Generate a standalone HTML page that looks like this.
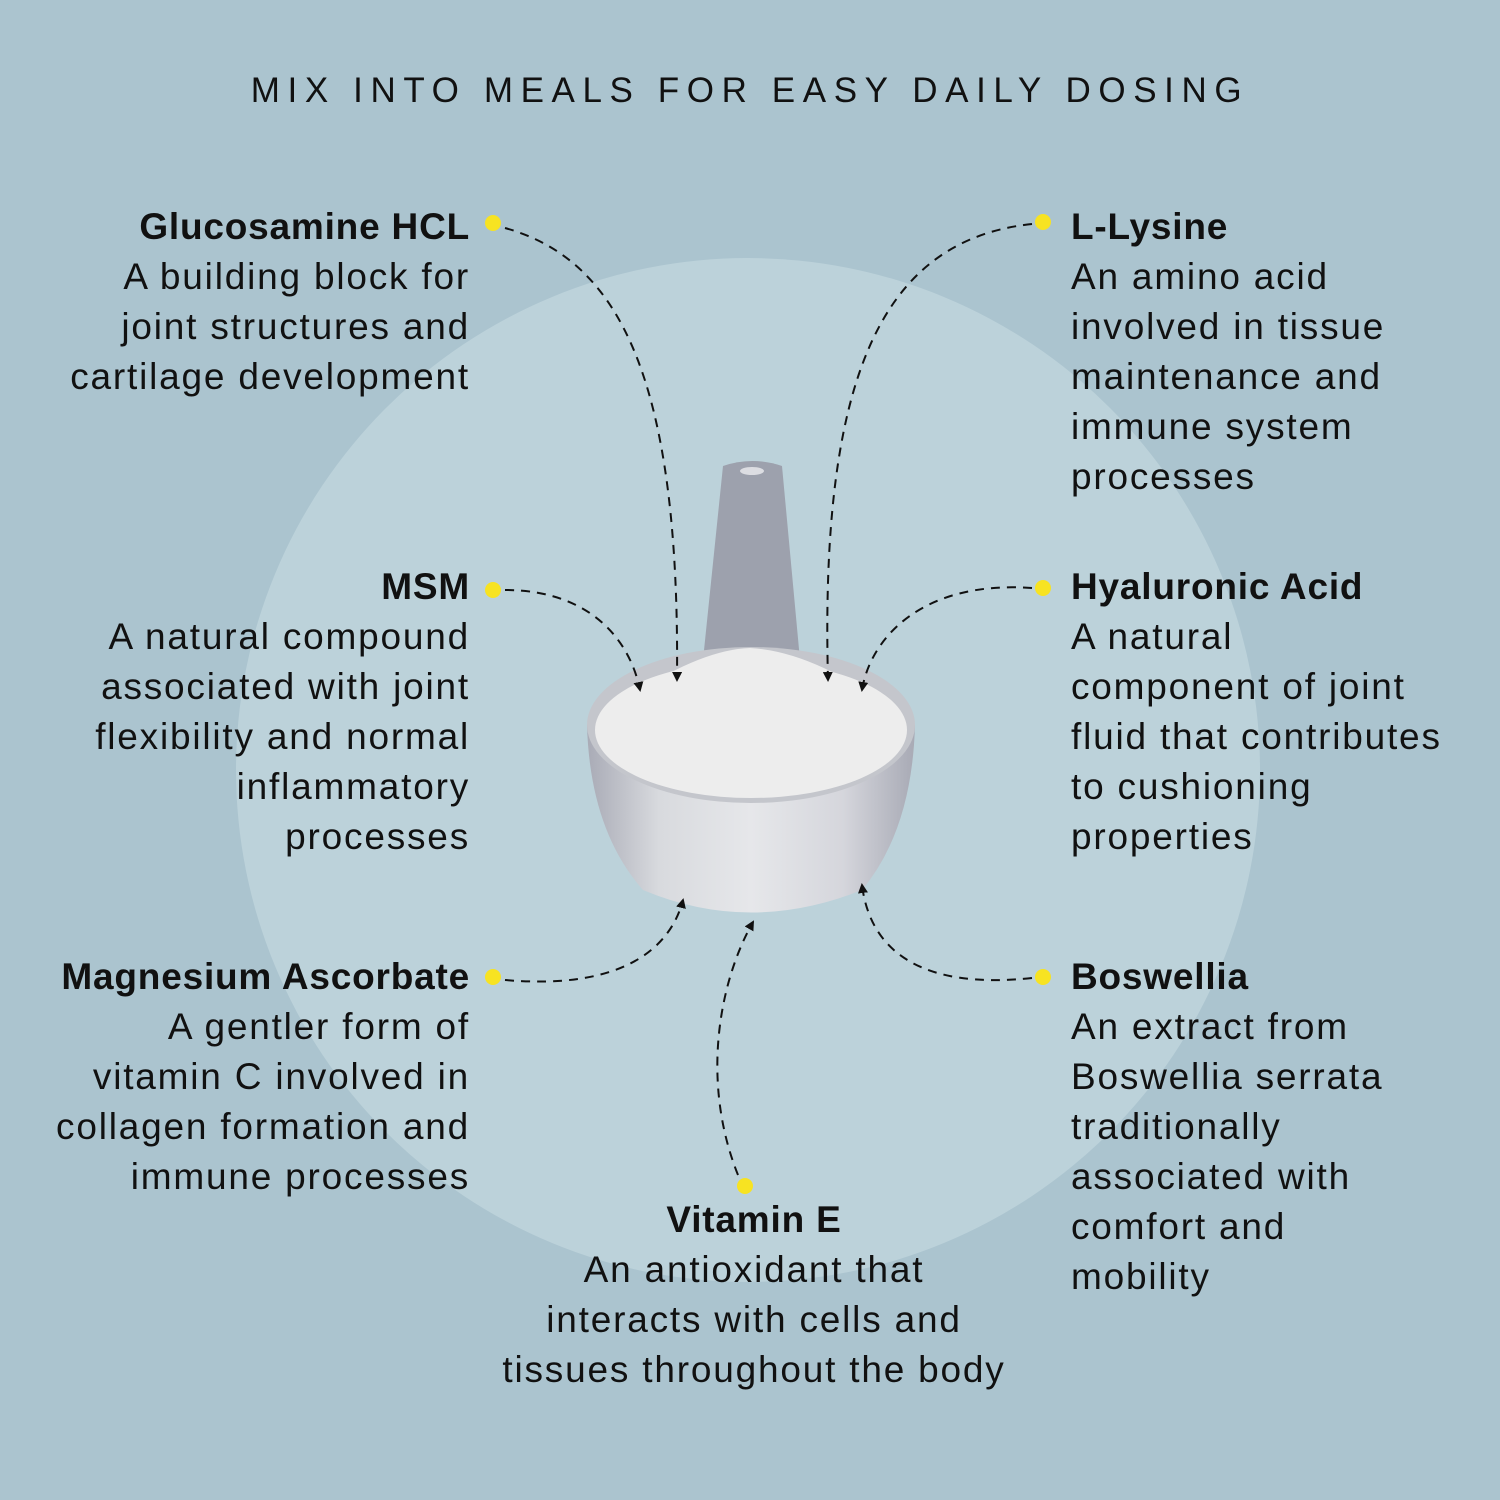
<!DOCTYPE html>
<html><head><style>
body{margin:0;width:1500px;height:1500px;background:#abc4cf;overflow:hidden;font-family:"Liberation Sans",sans-serif;color:#111}
.t{position:absolute;font-size:37px;line-height:50px;white-space:nowrap;letter-spacing:1.8px}
.r{text-align:right}
b{font-weight:bold;letter-spacing:0.8px}
</style></head><body>
<svg width="1500" height="1500" style="position:absolute;left:0;top:0">
<defs>
<marker id="a" markerWidth="10" markerHeight="10" refX="8" refY="5" orient="auto" markerUnits="userSpaceOnUse"><path d="M0,0 L10,5 L0,10z" fill="#111"/></marker>
<linearGradient id="cup" x1="0" x2="1"><stop offset="0" stop-color="#a9abb6"/><stop offset="0.22" stop-color="#d8dade"/><stop offset="0.5" stop-color="#e6e7ea"/><stop offset="0.78" stop-color="#d5d6dc"/><stop offset="1" stop-color="#a8aab5"/></linearGradient>
</defs>
<circle cx="748" cy="770" r="512" fill="#bcd2da"/>
<path d="M723,466 Q752,456 782,466 L800,660 L703,660 Z" fill="#9da1ad"/>
<ellipse cx="752" cy="471" rx="12" ry="4" fill="#dcdde2"/>
<path d="M587,725 Q590,830 643,890 Q750,935 862,890 Q912,830 915,725 Z" fill="url(#cup)"/>
<ellipse cx="751" cy="725" rx="164" ry="78" fill="#c4c6cc"/>
<ellipse cx="751" cy="730" rx="156" ry="68" fill="#ededed"/>
<path d="M597,720 Q690,650 750,648 Q820,652 905,720 Z" fill="#ededed"/>
<g fill="none" stroke="#111" stroke-width="2" stroke-dasharray="9,7" marker-end="url(#a)">
<path d="M505,228 C620,260 680,380 677,680"/>
<path d="M1032,224 C880,240 820,380 828,680"/>
<path d="M505,590 C590,590 630,640 640,690"/>
<path d="M1032,588 C920,580 870,640 862,690"/>
<path d="M505,980 C620,990 670,950 683,900"/>
<path d="M738,1175 C700,1080 720,980 753,922"/>
<path d="M1032,978 C920,990 870,950 862,885"/>
</g>
<g fill="#f7e322"><circle cx="493" cy="223" r="8"/><circle cx="1043" cy="222" r="8"/><circle cx="493" cy="590" r="8"/><circle cx="1043" cy="588" r="8"/><circle cx="493" cy="977" r="8"/><circle cx="1043" cy="977" r="8"/><circle cx="745" cy="1186" r="8"/></g>
</svg>
<div class="t" style="left:0;width:1500px;text-align:center;top:66px;font-size:35px;letter-spacing:7.6px">MIX INTO MEALS FOR EASY DAILY DOSING</div>
<div class="t r" style="right:1030px;top:202px"><b>Glucosamine HCL</b><br>A building block for<br>joint structures and<br>cartilage development</div>
<div class="t" style="left:1071px;top:202px"><b>L-Lysine</b><br>An amino acid<br>involved in tissue<br>maintenance and<br>immune system<br>processes</div>
<div class="t r" style="right:1030px;top:562px"><b>MSM</b><br>A natural compound<br>associated with joint<br>flexibility and normal<br>inflammatory<br>processes</div>
<div class="t" style="left:1071px;top:562px"><b>Hyaluronic Acid</b><br>A natural<br>component of joint<br>fluid that contributes<br>to cushioning<br>properties</div>
<div class="t r" style="right:1030px;top:952px"><b>Magnesium Ascorbate</b><br>A gentler form of<br>vitamin C involved in<br>collagen formation and<br>immune processes</div>
<div class="t" style="left:1071px;top:952px"><b>Boswellia</b><br>An extract from<br>Boswellia serrata<br>traditionally<br>associated with<br>comfort and<br>mobility</div>
<div class="t" style="left:404px;width:700px;text-align:center;top:1195px"><b>Vitamin E</b><br>An antioxidant that<br>interacts with cells and<br>tissues throughout the body</div>
</body></html>
